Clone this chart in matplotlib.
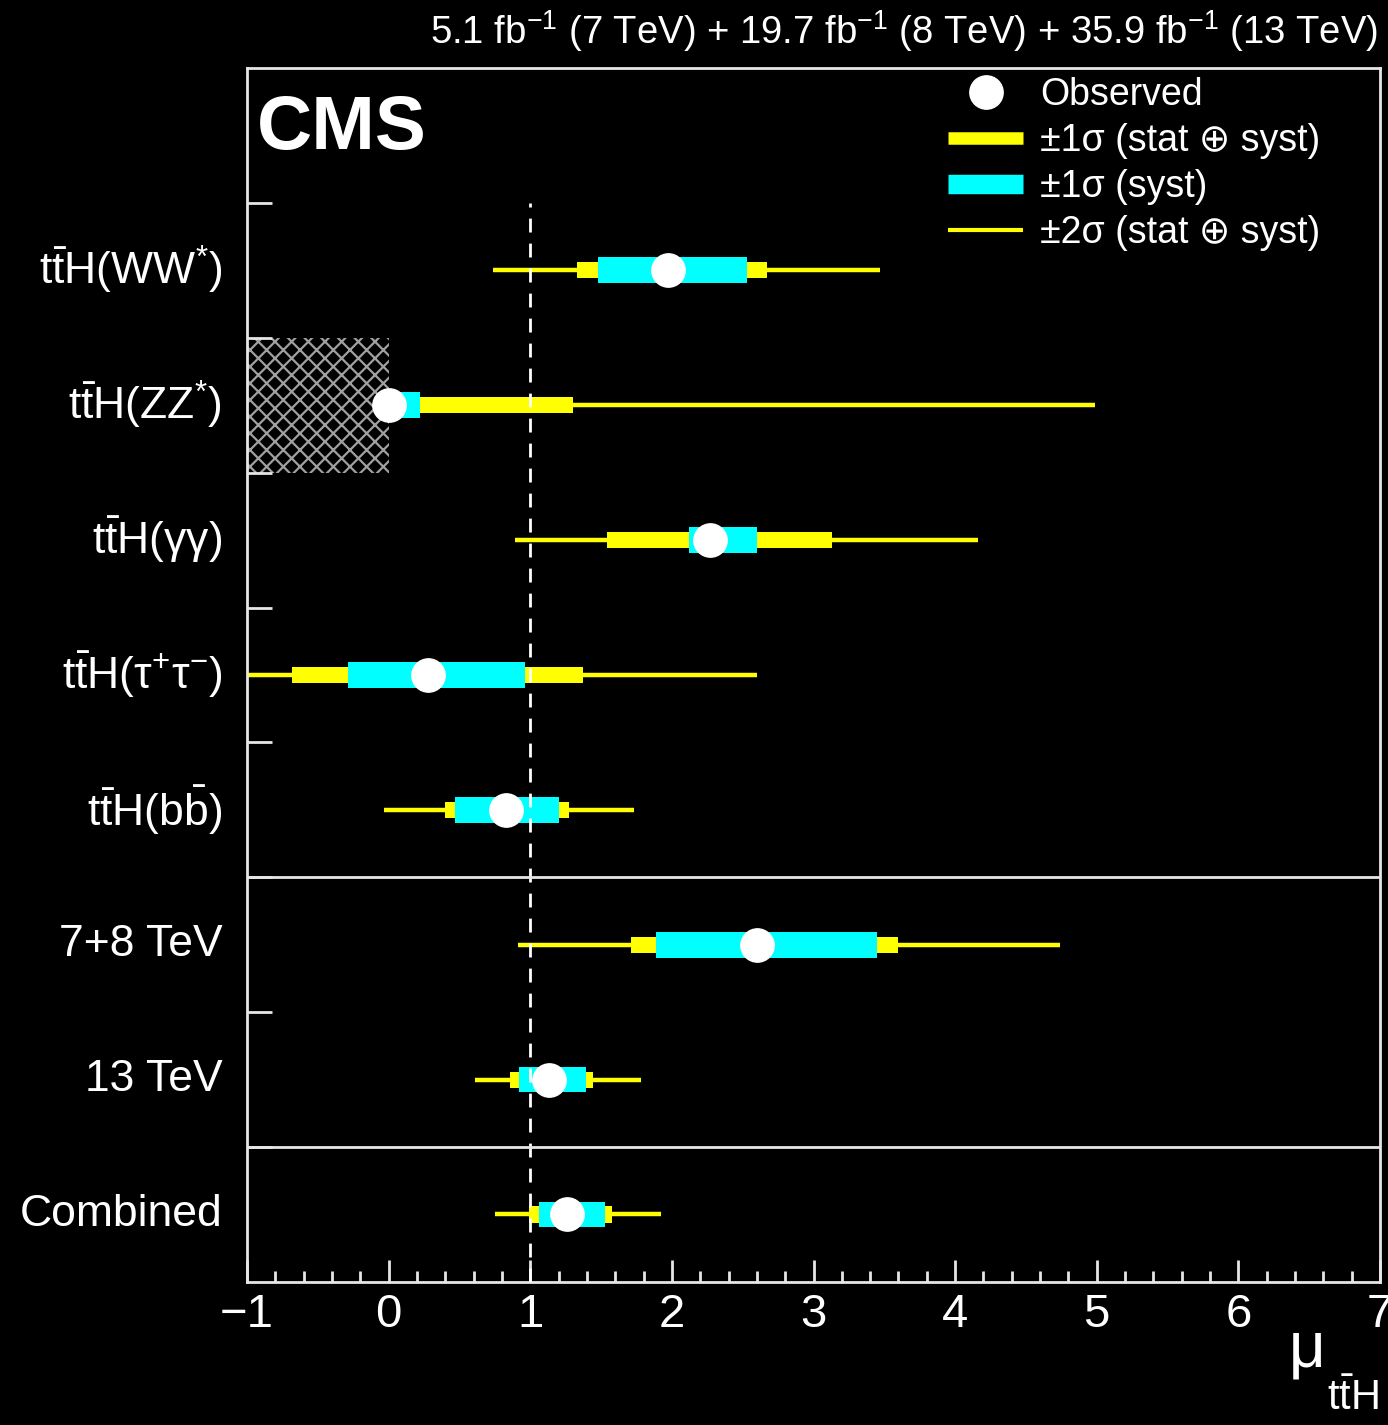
import matplotlib
matplotlib.use('Agg')
import matplotlib.pyplot as plt
from matplotlib.lines import Line2D
from matplotlib.ticker import MultipleLocator

plt.rcParams['font.family'] = ['Liberation Sans', 'DejaVu Sans']
plt.rcParams['mathtext.fontset'] = 'custom'
plt.rcParams['mathtext.rm'] = 'Liberation Sans'
plt.rcParams['mathtext.it'] = 'Liberation Sans'
plt.rcParams['mathtext.bf'] = 'Liberation Sans:bold'
plt.rcParams['hatch.linewidth'] = 1.6

# channels, bottom to top
labels = ['Combined', '13 TeV', '7+8 TeV',
          r'$\mathrm{t\bar{t}H(b\bar{b})}$',
          r'$\mathrm{t\bar{t}H(\tau^{+}\tau^{-})}$',
          r'$\mathrm{t\bar{t}H(\gamma\gamma)}$',
          r'$\mathrm{t\bar{t}H(ZZ^{*})}$',
          r'$\mathrm{t\bar{t}H(WW^{*})}$']
ypos = [0.5, 1.5, 2.5, 3.5, 4.5, 5.5, 6.5, 7.5]

mu = [1.26, 1.13, 2.60, 0.83, 0.28, 2.27, 0.00, 1.97]
lo2 = [0.75, 0.61, 0.91, -0.03, -1.10, 0.89, 0.00, 0.74]
hi2 = [1.92, 1.78, 4.74, 1.73, 2.60, 4.16, 4.99, 3.47]
lo1 = [0.99, 0.86, 1.71, 0.40, -0.68, 1.54, 0.00, 1.33]
hi1 = [1.58, 1.44, 3.60, 1.27, 1.37, 3.13, 1.30, 2.67]
lo_syst = [1.06, 0.92, 1.89, 0.47, -0.29, 2.12, 0.00, 1.48]
hi_syst = [1.53, 1.39, 3.45, 1.20, 0.96, 2.60, 0.22, 2.53]

yellow = '#ffff00'
cyan = '#00ffff'
fg = '#e6e6e6'

fig = plt.figure(figsize=(13.88, 14.25), dpi=100, facecolor='black')
ax = fig.add_axes([0.178, 0.1004, 0.8162, 0.8519], facecolor='black')

# excluded region mu < 0 for ZZ
ax.fill_between([-1, 0], 6, 7, facecolor='none', edgecolor='#a0a0a0',
                hatch='xx', linewidth=0, zorder=1)

for i in range(len(ypos)):
    ax.hlines(ypos[i], lo2[i], hi2[i], color=yellow, lw=3.2, zorder=2)
    ax.barh(ypos[i], hi1[i] - lo1[i], left=lo1[i], height=0.12,
            color=yellow, zorder=3)
    ax.barh(ypos[i], hi_syst[i] - lo_syst[i], left=lo_syst[i], height=0.19,
            color=cyan, zorder=4)

ax.vlines(1, 0, 8, color='white', lw=2, linestyles=(0, (5, 4)), zorder=5)
ax.plot(mu, ypos, 'o', color='white', markersize=24, zorder=6)

ax.axhline(1, color=fg, lw=2, zorder=5)
ax.axhline(3, color=fg, lw=2, zorder=5)

ax.set_xlim(-1, 7)
ax.set_ylim(0, 9)
for s in ax.spines.values():
    s.set_color(fg)
    s.set_linewidth(2)

ax.xaxis.set_major_locator(MultipleLocator(1))
ax.xaxis.set_minor_locator(MultipleLocator(0.2))
ax.tick_params(axis='x', which='major', direction='in', length=16, width=2,
               colors=fg, labelcolor='white', labelsize=34, pad=8,
               top=False)
ax.tick_params(axis='x', which='minor', direction='in', length=8, width=2,
               colors=fg, top=False)

ax.set_yticks([1, 2, 3, 4, 5, 6, 7, 8])
ax.set_yticklabels([])
ax.tick_params(axis='y', which='major', direction='in', length=18, width=2,
               colors=fg, right=False)
for y, lab in zip(ypos, labels):
    ax.text(-0.022, y, lab, transform=ax.get_yaxis_transform(),
            ha='right', va='center', color='white', fontsize=32)

ax.text(0.009, 0.949, 'CMS', transform=ax.transAxes, color='white',
        fontsize=55, fontweight='bold', ha='left', va='center')

fig.text(0.993, 0.962,
         r'5.1 fb$^{-1}$ (7 TeV) + 19.7 fb$^{-1}$ (8 TeV) + 35.9 fb$^{-1}$ (13 TeV)',
         ha='right', va='bottom', color='white', fontsize=27.5)

fig.text(0.940, 0.052, r'$\mu$', ha='center', va='center',
         color='white', fontsize=46)
fig.text(0.993, 0.018, r'$\mathrm{t\bar{t}H}$', ha='right', va='center',
         color='white', fontsize=30)

handles = [
    Line2D([], [], marker='o', color='white', markersize=24, linestyle='none'),
    Line2D([], [], color=yellow, lw=9, solid_capstyle='butt'),
    Line2D([], [], color=cyan, lw=14, solid_capstyle='butt'),
    Line2D([], [], color=yellow, lw=3, solid_capstyle='butt'),
]
leg_labels = ['Observed', '±1σ (stat ⊕ syst)', '±1σ (syst)',
              '±2σ (stat ⊕ syst)']
leg = ax.legend(handles, leg_labels, loc='upper left',
                bbox_to_anchor=(948 / 1388, 1 - 77 / 1425),
                bbox_transform=fig.transFigure, frameon=False, fontsize=27,
                handlelength=2.0, handletextpad=0.45, labelspacing=0.27,
                borderpad=0, borderaxespad=0)
for t in leg.get_texts():
    t.set_color('white')

fig.savefig('out.png', dpi=100, facecolor='black')
